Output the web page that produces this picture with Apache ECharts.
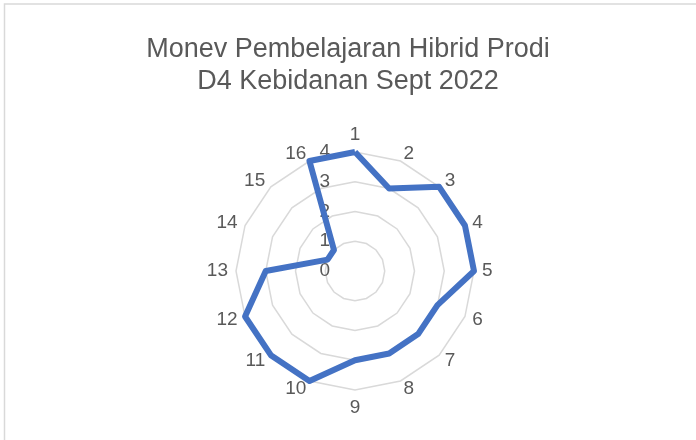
<!DOCTYPE html>
<html>
<head>
<meta charset="utf-8">
<script src="https://cdn.jsdelivr.net/npm/echarts@6/dist/echarts.min.js"></script>
<style>html,body{margin:0;padding:0;background:#fff}#c{width:696px;height:440px}</style>
</head>
<body>
<div id="c"></div>
<script>
const titleLines = ['Monev Pembelajaran Hibrid Prodi', 'D4 Kebidanan Sept 2022'];
const categories = ['1','2','3','4','5','6','7','8','9','10','11','12','13','14','15','16'];
const values = [4, 3, 4, 4, 4, 3, 3, 3, 3, 4, 4, 4, 3, 1, 1, 4];
const axisMin = 0, axisMax = 4, axisSplits = 4;

// ECharts radar runs counter-clockwise; reorder so categories run clockwise
const order = [0].concat(categories.map((_, i) => i).slice(1).reverse());

const chart = echarts.init(document.getElementById('c'), null, {renderer: 'canvas'});
const FONT = 'Liberation Sans';
chart.setOption({
  animation: false,
  backgroundColor: '#ffffff',
  graphic: [{
    type: 'rect', silent: true, z: -1,
    shape: {x: 4.5, y: 4, width: 720, height: 460},
    style: {fill: 'none', stroke: '#d9d9d9', lineWidth: 1.5}
  }],
  title: {
    text: titleLines.join('\n'),
    left: 'center', top: 29,
    textStyle: {fontFamily: FONT, fontSize: 27, fontWeight: 'normal', color: '#595959', lineHeight: 32}
  },
  radar: {
    center: [355, 271],
    radius: 119,
    startAngle: 90,
    shape: 'polygon',
    splitNumber: axisSplits,
    nameGap: 8,
    axisName: {color: '#595959', fontFamily: FONT, fontSize: 19},
    axisLine: {show: false},
    axisTick: {show: false},
    splitArea: {show: false},
    splitLine: {lineStyle: {color: '#d9d9d9', width: 1.5}},
    axisLabel: {show: false},
    indicator: order.map((k, i) => {
      const o = {name: categories[k], min: axisMin, max: axisMax};
      if (i === 0) o.axisLabel = {show: true, color: '#595959', fontFamily: FONT, fontSize: 19, margin: 25, showMinLabel: true};
      return o;
    })
  },
  series: [{
    type: 'radar',
    symbol: 'none',
    lineStyle: {color: '#4472C4', width: 6, join: 'round'},
    data: [{value: order.map(k => values[k])}]
  }]
});
</script>
</body>
</html>
